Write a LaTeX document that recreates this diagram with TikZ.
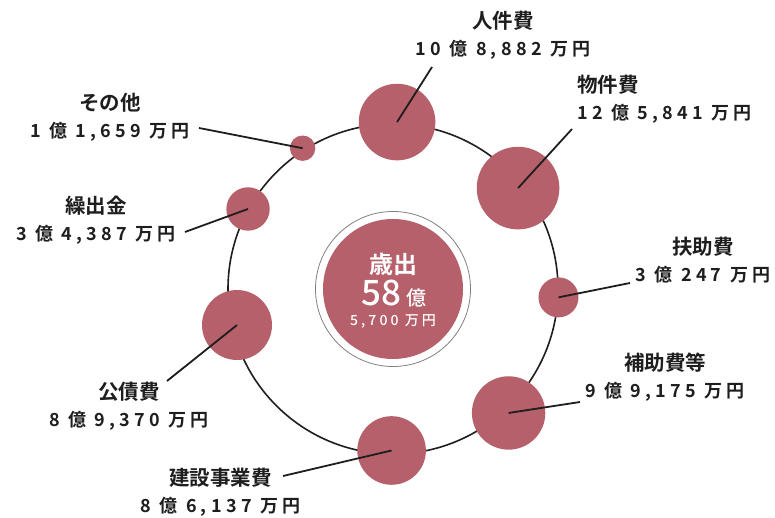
\documentclass[tikz,border=0pt]{standalone}
\usepackage{fontspec}
\setmainfont{Noto Sans CJK JP}
\newfontfamily\titlefont{Noto Sans CJK JP Bold}
\newfontfamily\midfont{Noto Sans CJK JP Medium}
\newfontfamily\numfont{Noto Sans CJK JP Bold}[LetterSpace=24]
\newfontfamily\smallnumfont{Noto Sans CJK JP Medium}[LetterSpace=22]
\definecolor{rose}{HTML}{B5606A}
\definecolor{ink}{HTML}{1E1E1E}
\newcommand{\amount}[1]{{\numfont\fontsize{18pt}{27pt}\selectfont #1}}
\tikzset{
  bubble/.style={circle, fill=rose, inner sep=0pt, minimum size=#1},
  orbit/.style={circle, draw=ink, line width=1.6pt, inner sep=0pt, minimum size=330pt},
  leader/.style={draw=ink, line width=1.8pt},
  tag/.style={align=center, text=ink, inner sep=0pt,
    font=\titlefont\fontsize{20.5pt}{27pt}\selectfont},
}
\begin{document}
\begin{tikzpicture}[x=1pt, y=1pt]
  \useasboundingbox (0,0) rectangle (775,518);
  \begin{scope}[shift={(393,229)}]
    \node[orbit] (orbit) at (0,0) {};
    % total in the middle
    \node[circle, draw=gray, line width=0.8pt, inner sep=0pt, minimum size=155pt] (ring) at (0,0) {};
    \node[bubble=140pt] (total) at (0,0) {};
    \node[text=white, font=\titlefont\fontsize{24pt}{24pt}\selectfont] (kind) at (0,25) {歳出};
    \node[text=white, font=\midfont] (oku) at (1,-5)
      {{\fontsize{35pt}{35pt}\selectfont 58}\hspace{5pt}{\fontsize{20pt}{20pt}\selectfont 億}};
    \node[text=white, font=\smallnumfont\fontsize{14pt}{14pt}\selectfont] (man) at (0,-32) {5,700 万円};
    % items on the orbit
    \draw
      (88.6:167) node[bubble=76.6pt] (jinken){}
      (38.9:160.7) node[bubble=82.6pt] (butsu){}
      (-2.9:165.7) node[bubble=40pt] (fujo){}
      (-47.0:169.5) node[bubble=73.4pt] (hojo){}
      (-90.5:161.5) node[bubble=68.6pt] (kensetsu){}
      (193.0:160.1) node[bubble=70pt] (kosai){}
      (151.1:165.6) node[bubble=43.4pt] (kuridashi){}
      (122.7:167.3) node[bubble=25.4pt] (sonota){};
  \end{scope}
  % labels
  \node[tag] (jinkenlbl) at (503,482.5) {人件費\\\amount{10 億 8,882 万円}};
  \node[tag, align=left, anchor=west] (butsulbl) at (577,418.5) {物件費\\\amount{12 億 5,841 万円}};
  \node[tag] (fujolbl) at (703,258.3) {扶助費\\\amount{3 億 247 万円}};
  \node[tag] (hojolbl) at (665,140.7) {補助費等\\\amount{9 億 9,175 万円}};
  \node[tag] (kensetsulbl) at (220.5,25.8) {建設事業費\\\amount{8 億 6,137 万円}};
  \node[tag] (kosailbl) at (129,111.3) {公債費\\\amount{8 億 9,370 万円}};
  \node[tag] (kuridashilbl) at (96,297.7) {繰出金\\\amount{3 億 4,387 万円}};
  \node[tag] (sonotalbl) at (110,401) {その他\\\amount{1 億 1,659 万円}};
  \coordinate (jinkenend) at (432,451);
  \coordinate (butsuend) at (572,389);
  \coordinate (fujoend) at (630,235);
  \coordinate (hojoend) at (580,116);
  \coordinate (kensetsuend) at (283,42);
  \coordinate (kosaiend) at (167,137);
  \coordinate (kuridashiend) at (185,286);
  \coordinate (sonotaend) at (199,390);
  \begin{scope}[leader]
    \draw (jinken.center) -- (jinkenend);
    \draw (butsu.center) -- (butsuend);
    \draw (fujo.center) -- (fujoend);
    \draw (hojo.center) -- (hojoend);
    \draw (kensetsu.center) -- (kensetsuend);
    \draw (kosai.center) -- (kosaiend);
    \draw (kuridashi.center) -- (kuridashiend);
    \draw (sonota.center) -- (sonotaend);
  \end{scope}
\end{tikzpicture}
\end{document}
